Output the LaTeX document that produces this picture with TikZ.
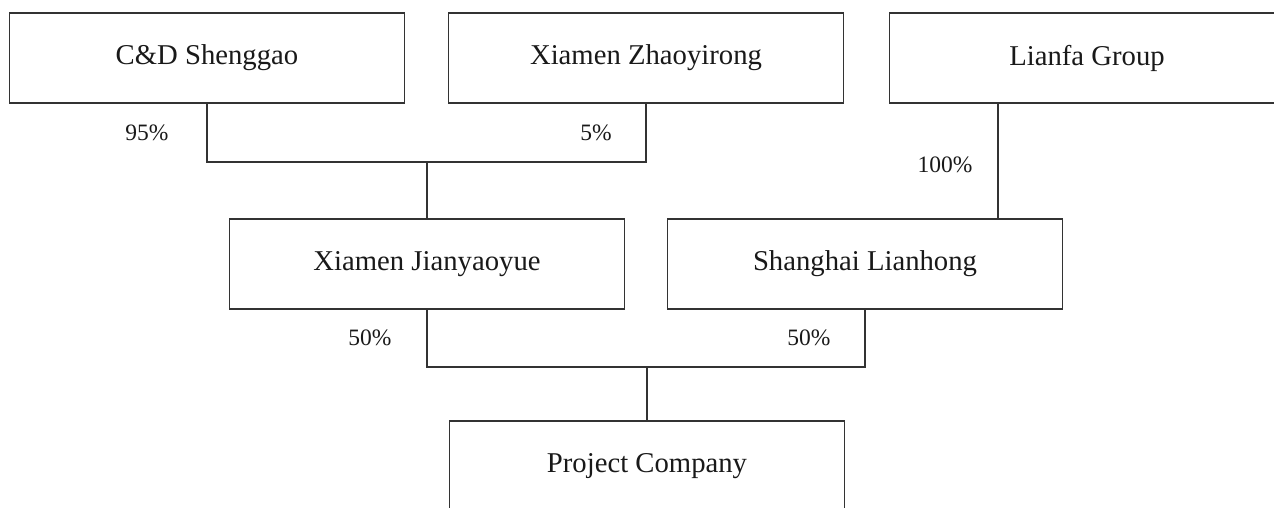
\documentclass[tikz,border=0pt]{standalone}
\usepackage{fontspec}
\setmainfont{Liberation Serif}
\usetikzlibrary{calc}
\tikzset{firm/.style = {draw=black!80, line width=1.3pt, rectangle, minimum width=395pt, minimum height=90pt, inner sep=0pt, font=\fontsize{28.7}{34}\selectfont, text=black!90}}
\tikzset{share/.style = {font=\fontsize{23.5}{28}\selectfont, text=black!90}}
\tikzset{link/.style = {draw=black!80, line width=1.3pt}}

\begin{document}
\begin{tikzpicture}[x=1pt, y=-1pt]
\clip (0,0) rectangle (1274,508);
\useasboundingbox (0,0) rectangle (1274,508);
\node [firm] (shenggao) at (207,58) {C\&D Shenggao};
\node [firm] (zhaoyirong) at (646,58) {Xiamen Zhaoyirong};
\node [firm] (lianfa) at (1087,58) {Lianfa Group};
\node [firm] (jianyaoyue) at (427,264) {Xiamen Jianyaoyue};
\node [firm] (lianhong) at (865,264) {Shanghai Lianhong};
\node [firm] (project) at (647,466) {Project Company};
\coordinate (top) at (427,162);
\coordinate (mid) at (647,367);
\draw [link] (shenggao.south) |- (top) -| (zhaoyirong.south);
\draw [link] (top) -- (jianyaoyue.north);
\draw [link] (998,0 |- lianfa.south) -- (998,0 |- lianhong.north);
\draw [link] (jianyaoyue.south) |- (mid) -| (lianhong.south);
\draw [link] (mid) -- (project.north);
\node [share] (s95) at (147,133) {95\%};
\node [share] (s5) at (596,133) {5\%};
\node [share] (s100) at (945,165) {100\%};
\node [share] (s50a) at (370,338) {50\%};
\node [share] (s50b) at (809,338) {50\%};
\end{tikzpicture}
\end{document}
